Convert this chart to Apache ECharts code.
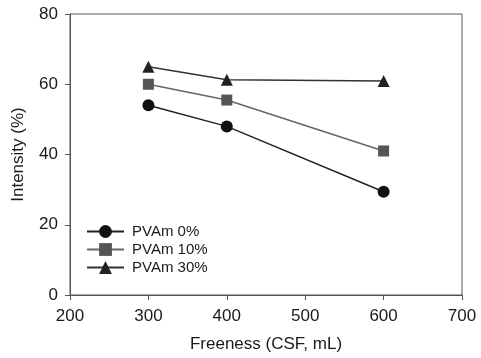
<!DOCTYPE html>
<html>
<head>
<meta charset="utf-8">
<script src="https://cdn.jsdelivr.net/npm/echarts@6/dist/echarts.min.js"></script>
<style>
  html, body { margin: 0; padding: 0; background: #fff; }
  #graph { width: 481px; height: 358px; }
</style>
</head>
<body>
<div id="graph"></div>
<script>
// data
const freeness = [300, 400, 600];
const pvam0 = [54, 48, 29.4];
const pvam10 = [60, 55.5, 41];
const pvam30 = [65, 61.3, 60.9];
const seriesNames = ['PVAm 0%', 'PVAm 10%', 'PVAm 30%'];

const toPairs = (ys) => freeness.map((x, i) => [x, ys[i]]);

const chart = echarts.init(document.getElementById('graph'));
const font = 'Liberation Sans, Arial, sans-serif';

chart.setOption({
  animation: false,
  textStyle: { fontFamily: font },
  grid: {
    left: 70, top: 14, right: 19, bottom: 63,
    outerBoundsMode: 'none',
    show: true, borderColor: '#555', borderWidth: 1
  },
  legend: {
    orient: 'vertical',
    left: 81, top: 219,
    itemWidth: 37, itemHeight: 16, itemGap: 3,
    textStyle: { fontSize: 15, color: '#1a1a1a', fontFamily: font, padding: [0, 0, 0, 3] },
    data: seriesNames
  },
  xAxis: {
    type: 'value', min: 200, max: 700, interval: 100,
    name: 'Freeness (CSF, mL)', nameLocation: 'middle', nameGap: 41,
    nameTextStyle: { fontSize: 17, color: '#1a1a1a' },
    axisLine: { lineStyle: { color: '#555' } },
    axisTick: { inside: false, length: 5, lineStyle: { color: '#555' } },
    axisLabel: { fontSize: 17, color: '#1a1a1a', margin: 13 },
    splitLine: { show: false }
  },
  yAxis: {
    type: 'value', min: 0, max: 80, interval: 20,
    name: 'Intensity (%)', nameLocation: 'middle', nameGap: 43,
    nameTextStyle: { fontSize: 17, color: '#1a1a1a' },
    axisLine: { show: true, lineStyle: { color: '#555' } },
    axisTick: { show: true, inside: false, length: 5, lineStyle: { color: '#555' } },
    axisLabel: { fontSize: 17, color: '#1a1a1a', margin: 12 },
    splitLine: { show: false }
  },
  series: [
    {
      name: seriesNames[0], type: 'line', data: toPairs(pvam0),
      symbol: 'circle', symbolSize: 12,
      itemStyle: { color: '#111' },
      lineStyle: { color: '#222', width: 1.5 }
    },
    {
      name: seriesNames[1], type: 'line', data: toPairs(pvam10),
      symbol: 'rect', symbolSize: 11,
      itemStyle: { color: '#555' },
      lineStyle: { color: '#666', width: 1.5 }
    },
    {
      name: seriesNames[2], type: 'line', data: toPairs(pvam30),
      symbol: 'triangle', symbolSize: 12,
      itemStyle: { color: '#222' },
      lineStyle: { color: '#333', width: 1.5 }
    }
  ]
});
</script>
</body>
</html>
